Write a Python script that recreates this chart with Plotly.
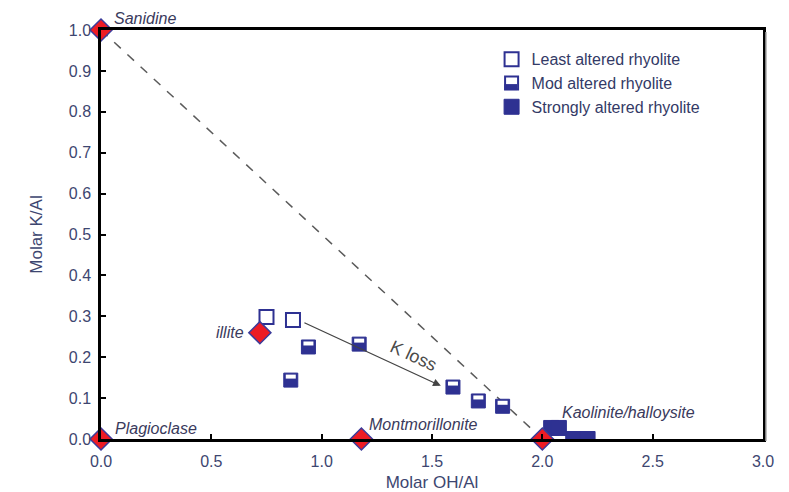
import plotly.graph_objects as go

# ---- data ----
least_x = [0.75, 0.87]
least_y = [0.298, 0.291]

mod_x = [0.86, 0.94, 1.17, 1.595, 1.71, 1.82]
mod_y = [0.144, 0.225, 0.232, 0.127, 0.093, 0.080]

strong_x = [2.04, 2.075, 2.14, 2.205]
strong_y = [0.027, 0.027, 0.0, 0.0]

mineral_names = ["Sanidine", "illite", "Plagioclase", "Montmorillonite", "Kaolinite/halloysite"]
mineral_x = [0.0, 0.72, 0.0, 1.18, 2.0]
mineral_y = [1.0, 0.26, 0.0, 0.0, 0.0]

x_ticks = [0.0, 0.5, 1.0, 1.5, 2.0, 2.5, 3.0]
y_ticks = [0.0, 0.1, 0.2, 0.3, 0.4, 0.5, 0.6, 0.7, 0.8, 0.9, 1.0]

trend_start = (0.0, 1.0)
trend_end = (2.0, 0.0)
arrow_start = (0.915, 0.286)
arrow_end = (1.54, 0.13)

NAVY = "#2E3192"
RED = "#ED1C24"
TXT = "#3d4670"
FONT = "Liberation Sans, Arial, sans-serif"

# legend placement (paper coords) and the legend symbol centre used for the half-filled glyph
LEG_X = 0.59
LEG_Y = 0.97
MOD_SYM_X = 0.619
MOD_SYM_Y = 0.869

fig = go.Figure()

# dashed trend line
fig.add_trace(go.Scatter(x=[trend_start[0], trend_end[0]], y=[trend_start[1], trend_end[1]],
                         mode="lines", line=dict(color="#5a5a5a", width=1.5, dash="dash"),
                         showlegend=False, hoverinfo="skip"))

# least altered
fig.add_trace(go.Scatter(x=least_x, y=least_y, mode="markers", name="Least altered rhyolite",
                         marker=dict(symbol="square-open", size=14, color=NAVY, line=dict(width=2, color=NAVY))))

# mod altered (solid navy squares, white band added as shapes)
fig.add_trace(go.Scatter(x=mod_x, y=mod_y, mode="markers", name="Mod altered rhyolite",
                         showlegend=False, legendgroup="mod",
                         marker=dict(symbol="square", size=14, color=NAVY, line=dict(width=1, color=NAVY))))
# legend entry for mod altered: open square, lower half filled by a shape behind it
fig.add_trace(go.Scatter(x=[None], y=[None], mode="markers", name="Mod altered rhyolite",
                         legendgroup="mod",
                         marker=dict(symbol="square-open", size=13, color=NAVY, line=dict(width=2, color=NAVY))))

# strongly altered
fig.add_trace(go.Scatter(x=strong_x, y=strong_y, mode="markers", name="Strongly altered rhyolite",
                         marker=dict(symbol="square", size=15, color=NAVY, line=dict(width=1, color=NAVY))))

# minerals
fig.add_trace(go.Scatter(x=mineral_x, y=mineral_y, mode="markers", showlegend=False,
                         marker=dict(symbol="diamond", size=17, color=RED, line=dict(width=1.5, color="#3B3B9A")),
                         cliponaxis=False, text=mineral_names, hoverinfo="text"))

shapes = []
for xv, yv in zip(mod_x, mod_y):
    shapes.append(dict(type="rect", xref="x", yref="y", xsizemode="pixel", ysizemode="pixel",
                       xanchor=xv, yanchor=yv, x0=-5, x1=5, y0=1.5, y1=5.5,
                       fillcolor="white", line=dict(width=0), layer="above"))

# lower-half fill of the legend glyph
shapes.append(dict(type="rect", xref="paper", yref="paper", xsizemode="pixel", ysizemode="pixel",
                   xanchor=MOD_SYM_X, yanchor=MOD_SYM_Y, x0=-6.5, x1=6.5, y0=-6.5, y1=-0.5,
                   fillcolor=NAVY, line=dict(width=0), layer="above"))

# frame shadow
shapes.append(dict(type="line", xref="paper", yref="paper", xsizemode="pixel",
                   xanchor=1, x0=3, x1=3, y0=-0.005, y1=0.995, line=dict(color="#aaaaaa", width=1.5)))

annotations = []
label_offsets = {
    "Sanidine": (11, 12, "left"),
    "illite": (-14, 0, "right"),
    "Plagioclase": (12, 11, "left"),
    "Montmorillonite": (6, 15, "left"),
    "Kaolinite/halloysite": (18, 27, "left"),
}
for nm, xv, yv in zip(mineral_names, mineral_x, mineral_y):
    dx, dy, anc = label_offsets[nm]
    annotations.append(dict(x=xv, y=yv, xref="x", yref="y", text="<i>%s</i>" % nm, showarrow=False,
                            xanchor=anc, yanchor="middle", xshift=dx, yshift=dy,
                            font=dict(family=FONT, size=16, color="#3a3a5c")))

# arrow
annotations.append(dict(x=arrow_end[0], y=arrow_end[1], ax=arrow_start[0], ay=arrow_start[1],
                        xref="x", yref="y", axref="x", ayref="y", text="", showarrow=True,
                        arrowhead=2, arrowsize=1.2, arrowwidth=1.3, arrowcolor="#444444"))
annotations.append(dict(x=(arrow_start[0] + arrow_end[0]) / 2, y=(arrow_start[1] + arrow_end[1]) / 2,
                        xref="x", yref="y", text="K loss", showarrow=False, textangle=25,
                        xshift=42, yshift=-2, font=dict(family=FONT, size=18, color="#4a4a4a")))

fig.update_layout(
    width=789, height=492,
    margin=dict(l=101, r=26, t=30, b=53),
    paper_bgcolor="white", plot_bgcolor="white",
    font=dict(family=FONT, size=16, color=TXT),
    shapes=shapes, annotations=annotations,
    legend=dict(x=LEG_X, y=LEG_Y, xanchor="left", yanchor="top", bgcolor="rgba(0,0,0,0)",
                font=dict(family=FONT, size=16, color="#333a66"), tracegroupgap=0),
    xaxis=dict(range=[0, 3.0], tickvals=x_ticks, ticktext=["%.1f" % v for v in x_ticks],
               showgrid=False, zeroline=False, showline=True, mirror=True, linecolor="black", linewidth=2.5,
               ticks="inside", ticklen=5, tickwidth=2, tickcolor="black", ticklabelstandoff=6,
               tickfont=dict(size=16, color=TXT), automargin=False,
               title=dict(text="Molar OH/Al", font=dict(size=17, color=TXT), standoff=14)),
    yaxis=dict(range=[0, 1.0], tickvals=y_ticks, ticktext=["%.1f" % v for v in y_ticks],
               showgrid=False, zeroline=False, showline=True, mirror=True, linecolor="black", linewidth=2.5,
               ticks="inside", ticklen=5, tickwidth=2, tickcolor="black", ticklabelstandoff=4,
               tickfont=dict(size=16, color=TXT), automargin=False,
               title=dict(text="Molar K/Al", font=dict(size=17, color=TXT), standoff=22)),
)

fig.write_html("out.html", config={"displayModeBar": False},
               post_script="document.body.style.margin='0';")
